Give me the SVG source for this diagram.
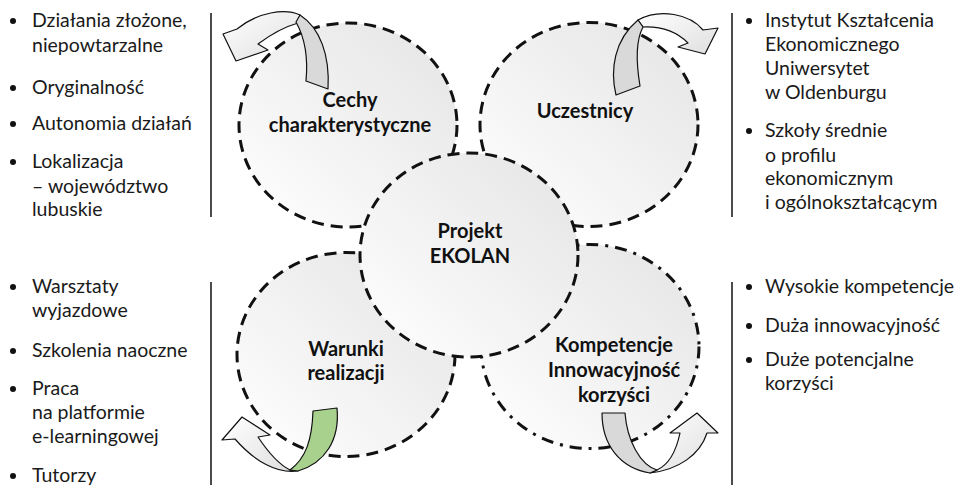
<svg xmlns="http://www.w3.org/2000/svg" width="961" height="485" viewBox="0 0 961 485">
  <style>
    .bg { fill: #ffffff; }
    .disc { fill: url(#discFill); stroke: #111; stroke-width: 3; stroke-dasharray: 12 7; }
    .dashdot { stroke-dasharray: 12 7 3 7; }
    .title { font-family: Lato, "Open Sans", sans-serif; font-weight: bold; font-size: 20px; fill: #111; text-anchor: middle; }
    .item { font-family: Lato, "Open Sans", sans-serif; font-size: 19.5px; fill: #1a1a1a; }
    .dot { fill: #111; }
    .rule { stroke: #111; stroke-width: 1.5; }
    .front { fill: url(#ribbonFill); stroke: #111; stroke-width: 1.2; stroke-linejoin: round; }
    .back { fill: #d9d9d9; stroke: #111; stroke-width: 1.2; stroke-linejoin: round; }
    .backGreen { fill: #a9d18e; stroke: #111; stroke-width: 1.2; stroke-linejoin: round; }
  </style>
  <defs>
    <linearGradient id="discFill" x1="1" y1="0" x2="0" y2="1">
      <stop offset="0" stop-color="#e4e4e4"/>
      <stop offset="1" stop-color="#ffffff"/>
    </linearGradient>
    <linearGradient id="ribbonFill" x1="0" y1="0" x2="1" y2="1">
      <stop offset="0" stop-color="#ffffff"/>
      <stop offset="1" stop-color="#dedede"/>
    </linearGradient>
  </defs>

  <rect class="bg" x="0" y="0" width="961" height="485"/>

  <!-- side rules -->
  <g id="rules">
    <line class="rule" x1="211" y1="13" x2="211" y2="217"/>
    <line class="rule" x1="211" y1="282" x2="211" y2="485"/>
    <line class="rule" x1="732" y1="13" x2="732" y2="217"/>
    <line class="rule" x1="732" y1="282" x2="732" y2="485"/>
  </g>

  <!-- outer discs -->
  <g id="cechy">
    <ellipse class="disc" cx="348" cy="125" rx="109" ry="102"/>
  </g>
  <g id="uczestnicy">
    <ellipse class="disc" cx="589" cy="124.5" rx="109" ry="102"/>
  </g>
  <g id="warunki">
    <ellipse class="disc" cx="346" cy="354.5" rx="109" ry="102"/>
  </g>
  <g id="kompetencje">
    <ellipse class="disc dashdot" cx="590" cy="346.5" rx="109" ry="102"/>
  </g>
  <!-- central disc -->
  <g id="projekt">
    <ellipse class="disc" cx="469" cy="255" rx="109" ry="102"/>
    <text class="title" x="470" y="238">Projekt</text>
    <text class="title" x="470" y="263">EKOLAN</text>
  </g>

  <!-- disc labels -->
  <g id="labels">
    <text class="title" x="350" y="107">Cechy</text>
    <text class="title" x="350" y="132">charakterystyczne</text>
    <text class="title" x="585" y="118">Uczestnicy</text>
    <text class="title" x="346" y="356">Warunki</text>
    <text class="title" x="346" y="380">realizacji</text>
    <text class="title" x="614" y="352">Kompetencje</text>
    <text class="title" x="614" y="377">Innowacyjność</text>
    <text class="title" x="614" y="402">korzyści</text>
  </g>

  <!-- curved ribbon arrows -->
  <g id="connectors">
    <g id="arrow-tl">
      <path class="front" d="M300,15 C285,8 258,12 237,29 L223,34 L236,61 L268,50 L258,44 C270,35 284,27 298,23 Z"/>
      <path class="back" d="M306,81 C308,60 305,38 296,22 L300,15 C320,28 330,55 328,89 Z"/>
    </g>
    <g id="arrow-tr">
      <path class="front" d="M638,20 C660,8 690,14 703,30 L718,28 L705,54 L678,47 L688,43 C678,33 665,26 643,27 Z"/>
      <path class="back" d="M616,95 C610,70 614,40 638,20 L643,27 C636,40 636,62 640,86 Z"/>
    </g>
    <g id="arrow-bl">
      <path class="front" d="M298,471 C278,474 255,462 235,439 L222,440 L242,417 L270,435 L258,437 C270,455 280,465 290,470 Z"/>
      <path class="backGreen" d="M313,411 L337,408 C340,440 325,463 298,471 L290,470 C306,458 312,440 313,411 Z"/>
    </g>
    <g id="arrow-br">
      <path class="front" d="M650,473 C678,470 700,455 707,433 L718,433 L697,413 L670,433 L680,433 C676,452 668,465 657,470 Z"/>
      <path class="back" d="M602,413 L625,413 C627,440 640,465 657,470 L650,473 C620,468 602,445 602,413 Z"/>
    </g>
  </g>

  <!-- bullet lists -->
  <g id="list-cechy">
    <circle class="dot" cx="13" cy="21" r="3"/>
    <text class="item" x="32" y="27">Działania złożone,</text>
    <text class="item" x="32" y="52">niepowtarzalne</text>
    <circle class="dot" cx="13" cy="88" r="3"/>
    <text class="item" x="32" y="94">Oryginalność</text>
    <circle class="dot" cx="13" cy="124" r="3"/>
    <text class="item" x="32" y="130">Autonomia działań</text>
    <circle class="dot" cx="13" cy="162" r="3"/>
    <text class="item" x="32" y="168">Lokalizacja</text>
    <text class="item" x="32" y="193">– województwo</text>
    <text class="item" x="32" y="216">lubuskie</text>
  </g>
  <g id="list-uczestnicy">
    <circle class="dot" cx="749" cy="21" r="3"/>
    <text class="item" x="765" y="27">Instytut Kształcenia</text>
    <text class="item" x="765" y="51">Ekonomicznego</text>
    <text class="item" x="765" y="75">Uniwersytet</text>
    <text class="item" x="765" y="99">w Oldenburgu</text>
    <circle class="dot" cx="749" cy="131" r="3"/>
    <text class="item" x="765" y="137">Szkoły średnie</text>
    <text class="item" x="765" y="162">o profilu</text>
    <text class="item" x="765" y="185">ekonomicznym</text>
    <text class="item" x="765" y="209">i ogólnokształcącym</text>
  </g>
  <g id="list-warunki">
    <circle class="dot" cx="13" cy="287" r="3"/>
    <text class="item" x="32" y="293">Warsztaty</text>
    <text class="item" x="32" y="317">wyjazdowe</text>
    <circle class="dot" cx="13" cy="351" r="3"/>
    <text class="item" x="32" y="357">Szkolenia naoczne</text>
    <circle class="dot" cx="13" cy="389" r="3"/>
    <text class="item" x="32" y="395">Praca</text>
    <text class="item" x="32" y="419">na platformie</text>
    <text class="item" x="32" y="443">e-learningowej</text>
    <circle class="dot" cx="13" cy="476" r="3"/>
    <text class="item" x="32" y="482">Tutorzy</text>
  </g>
  <g id="list-kompetencje">
    <circle class="dot" cx="749" cy="287" r="3"/>
    <text class="item" x="765" y="293">Wysokie kompetencje</text>
    <circle class="dot" cx="749" cy="326" r="3"/>
    <text class="item" x="765" y="332">Duża innowacyjność</text>
    <circle class="dot" cx="749" cy="360" r="3"/>
    <text class="item" x="765" y="366">Duże potencjalne</text>
    <text class="item" x="765" y="390">korzyści</text>
  </g>
</svg>
